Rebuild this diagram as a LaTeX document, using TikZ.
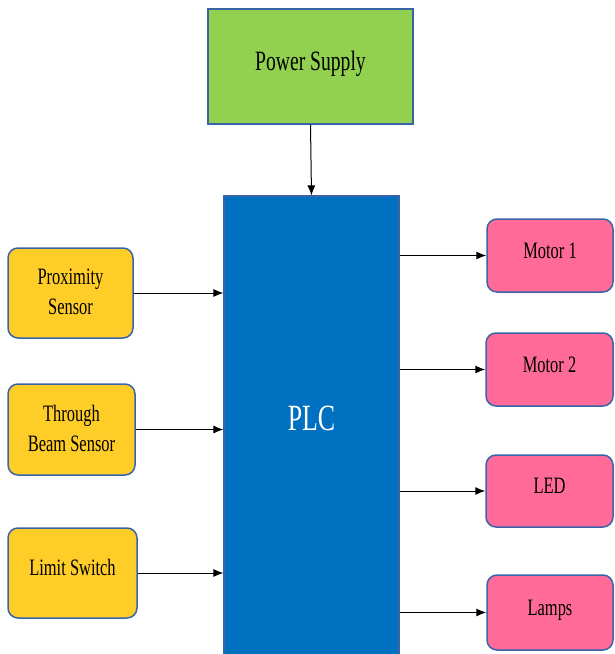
\documentclass[tikz,border=0pt]{standalone}
\usepackage{fontspec}
\setmainfont[FakeStretch=0.7]{Liberation Serif}
\usetikzlibrary{arrows.meta}
\definecolor{psgreen}{HTML}{92D050}
\definecolor{plcblue}{HTML}{0070C0}
\definecolor{inyellow}{HTML}{FFCD28}
\definecolor{outpink}{HTML}{FF6A99}
\definecolor{edgeblue}{HTML}{3A64A8}
\begin{document}
\begin{tikzpicture}[x=1pt,y=-1pt,
  box/.style={draw=edgeblue,line width=1.5pt,inner sep=2pt,align=center,font=\fontsize{23.5}{30}\selectfont},
  inbox/.style={box,fill=inyellow,rounded corners=10pt},
  outbox/.style={box,fill=outpink,rounded corners=10pt},
  conn/.style={line width=1pt,black,-{Latex[length=10pt,width=8pt]}}]
\useasboundingbox (0,0) rectangle (614,654);
\node[box,fill=psgreen,minimum width=205pt,minimum height=115pt,font=\fontsize{28}{32}\selectfont] (ps) at (310.5,66.5) {\raisebox{12pt}{Power Supply}};
\node[draw=edgeblue,line width=1.2pt,fill=plcblue,minimum width=175pt,minimum height=464pt] (plc) at (311.5,428) {};
\node[text=white,font=\fontsize{37}{42}\selectfont] (plctext) at (311.5,418) {PLC};
\node[inbox,minimum width=125pt,minimum height=90pt] (prox) at (70.5,293) {\raisebox{2pt}{Proximity}\\\raisebox{2pt}{Sensor}};
\node[inbox,minimum width=127pt,minimum height=91pt] (tb) at (71.5,429.5) {\raisebox{2pt}{Through}\\\raisebox{2pt}{Beam Sensor}};
\node[inbox,minimum width=129pt,minimum height=90pt] (ls) at (72.5,573) {\raisebox{12pt}{Limit Switch}};
\node[outbox,minimum width=126pt,minimum height=73pt] (m1) at (550,255.5) {\raisebox{10pt}{Motor 1}};
\node[outbox,minimum width=127pt,minimum height=73pt] (m2) at (549.5,369.5) {\raisebox{10pt}{Motor 2}};
\node[outbox,minimum width=127pt,minimum height=72pt] (led) at (549.5,491) {\raisebox{10pt}{LED}};
\node[outbox,minimum width=126pt,minimum height=75pt] (lamps) at (550,612.5) {\raisebox{10pt}{Lamps}};
\draw[conn] (ps.south) -- (plc.north);
\draw[conn] (prox.east) -- (prox.east -| plc.west);
\draw[conn] (tb.east) -- (tb.east -| plc.west);
\draw[conn] (ls.east) -- (ls.east -| plc.west);
\draw[conn] (plc.east |- m1.west) -- (m1.west);
\draw[conn] (plc.east |- m2.west) -- (m2.west);
\draw[conn] (plc.east |- led.west) -- (led.west);
\draw[conn] (plc.east |- lamps.west) -- (lamps.west);
\end{tikzpicture}
\end{document}
